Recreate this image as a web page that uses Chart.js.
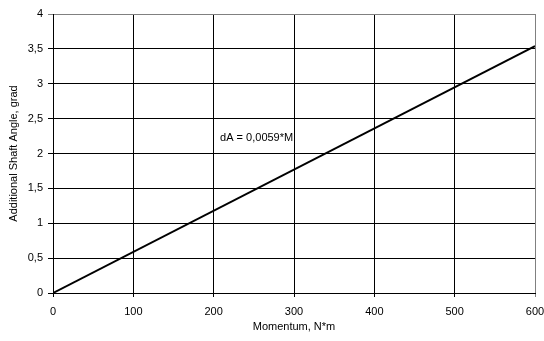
<!DOCTYPE html>
<html>
<head>
<meta charset="utf-8">
<script src="https://cdn.jsdelivr.net/npm/chart.js@4"></script>
<style>
  html, body { margin: 0; padding: 0; background: #fff; }
  #wrap { width: 544px; height: 341px; }
</style>
</head>
<body>
<div id="wrap"><canvas id="angle-chart"></canvas></div>
<script>
const momentum = [0, 600]
const shaftAngle = [0, 3.54]
const noteText = "dA = 0,0059*M"
const notePos = [208, 2.22]

const fmt = v => String(v).replace(".", ",")

// draws the formula note inside the plot
const notePlugin = {
    id: "note",
    afterDatasetsDraw(chart) {
        const {ctx, scales} = chart
        ctx.save()
        ctx.font = "11px 'Liberation Sans', Arial, sans-serif"
        ctx.fillStyle = "#000"
        ctx.textBaseline = "middle"
        ctx.fillText(noteText, scales.x.getPixelForValue(notePos[0]), scales.y.getPixelForValue(notePos[1]))
        ctx.restore()
    }
}

// outer top/right lines are grey in the original
const gridColor = ctx => ctx.index === ctx.scale.ticks.length - 1 ? "#808080" : "#000"

Chart.defaults.font.family = "'Liberation Sans', Arial, sans-serif"
Chart.defaults.font.size = 11
Chart.defaults.color = "#000"

new Chart(document.getElementById("angle-chart"), {
    type: "scatter",
    data: {
        datasets: [{
            data: momentum.map((m, i) => ({x: m, y: shaftAngle[i]})),
            showLine: true,
            borderColor: "#000",
            borderWidth: 2,
            pointRadius: 0
        }]
    },
    options: {
        responsive: true,
        maintainAspectRatio: false,
        animation: false,
        layout: {padding: {top: 14, right: 9, left: 0, bottom: 0}},
        plugins: {legend: {display: false}, tooltip: {enabled: false}},
        scales: {
            x: {
                min: 0, max: 600,
                ticks: {stepSize: 100, padding: 8, maxRotation: 0},
                grid: {color: gridColor, lineWidth: 1, tickLength: 4},
                border: {color: "#000"},
                title: {display: true, text: "Momentum, N*m", padding: 7},
                afterFit(scale) {
                    scale.height = 48
                    scale.paddingLeft = 0
                    scale.paddingRight = 0
                }
            },
            y: {
                min: 0, max: 4,
                ticks: {stepSize: 0.5, padding: 5, callback: v => fmt(v)},
                grid: {color: gridColor, lineWidth: 1, tickLength: 5},
                border: {color: "#000"},
                title: {display: true, text: "Additional Shaft Angle, grad", padding: 7},
                afterFit(scale) {
                    scale.width = 53
                }
            }
        }
    },
    plugins: [notePlugin]
})
</script>
</body>
</html>
